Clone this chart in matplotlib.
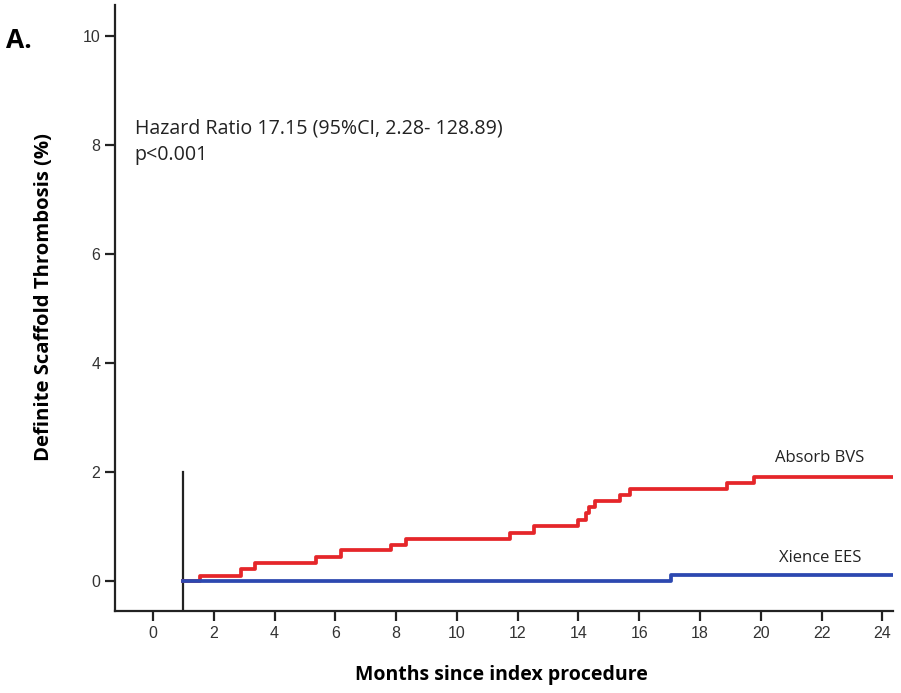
import matplotlib
matplotlib.use("Agg")
import matplotlib.pyplot as plt

# Kaplan-Meier style cumulative incidence
absorb_t = [1.0, 1.55, 2.9, 3.35, 5.38, 6.18, 7.82, 8.32, 11.74, 12.54, 13.97,
            14.24, 14.34, 14.56, 15.36, 15.69, 18.9, 19.78, 24.35]
absorb_y = [0.0, 0.10, 0.22, 0.33, 0.45, 0.57, 0.67, 0.78, 0.89, 1.01, 1.12,
            1.24, 1.36, 1.47, 1.58, 1.68, 1.79, 1.91, 1.91]
xience_t = [1.0, 17.04, 24.35]
xience_y = [0.0, 0.12, 0.12]

x_ticks = [0, 2, 4, 6, 8, 10, 12, 14, 16, 18, 20, 22, 24]
y_ticks = [0, 2, 4, 6, 8, 10]

fig = plt.figure(figsize=(9.01, 6.93), dpi=100)
ax = fig.add_axes([0.1276, 0.1183, 0.8635, 0.8745])

ax.step(absorb_t, absorb_y, where="post", color="#e5262a", lw=2.7, zorder=3)
ax.step(xience_t, xience_y, where="post", color="#2c48b0", lw=2.7, zorder=4)
ax.plot([1.0, 1.0], [-0.55, 2.0], color="#222222", lw=1.6, zorder=2)

ax.set_xlim(-1.25, 24.35)
ax.set_ylim(-0.55, 10.57)
ax.set_xticks(x_ticks)
ax.set_yticks(y_ticks)

for s in ["top", "right"]:
    ax.spines[s].set_visible(False)
for s in ["left", "bottom"]:
    ax.spines[s].set_linewidth(1.6)
    ax.spines[s].set_color("#222222")

ax.tick_params(axis="both", direction="out", length=7, width=1.6, color="#222222",
               labelsize=11.5, labelcolor="#333333",
               labelfontfamily="Liberation Sans")

# axis titles placed in figure coords
fig.text(0.049, 0.5707, "Definite Scaffold Thrombosis (%)", family="Open Sans",
         fontweight="bold", fontsize=14.6, rotation=90, ha="center", va="center")
fig.text(0.557, 0.026, "Months since index procedure", family="Open Sans",
         fontweight="bold", fontsize=14, ha="center", va="center")

ax.text(-0.6, 8.31, "Hazard Ratio 17.15 (95%CI, 2.28- 128.89)",
        family="Open Sans", fontsize=14.1, color="#222222", va="center")
ax.text(-0.6, 7.82, "p<0.001",
        family="Open Sans", fontsize=14.1, color="#222222", va="center")
ax.text(21.92, 2.25, "Absorb BVS", family="Open Sans", fontsize=12,
        color="#222222", va="center", ha="center")
ax.text(21.97, 0.42, "Xience EES", family="Open Sans", fontsize=12,
        color="#222222", va="center", ha="center")

fig.text(0.007, 0.942, "A.", family="Open Sans", fontweight="bold",
         fontsize=19, va="center")

fig.savefig("out.png", dpi=100)
